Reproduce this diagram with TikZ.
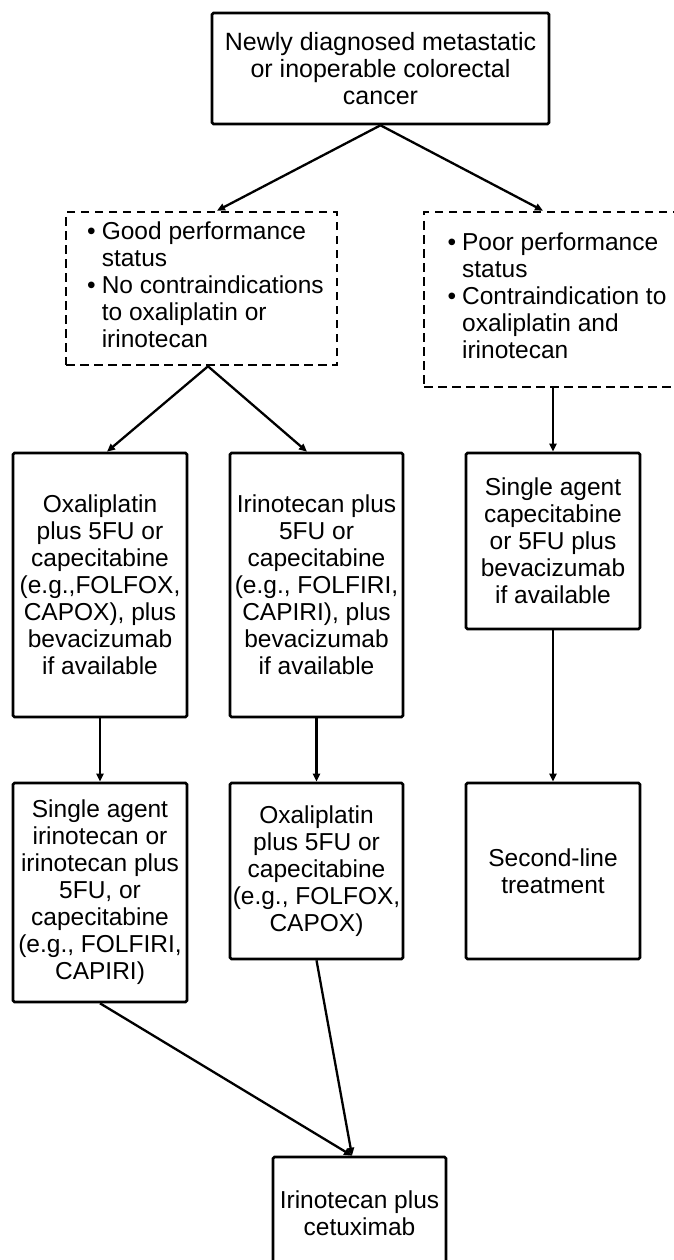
\documentclass[tikz,border=0pt]{standalone}
\usepackage{fontspec}
\setmainfont{Liberation Sans}
\usetikzlibrary{arrows.meta}
\begin{document}
\begin{tikzpicture}[x=1pt, y=-1pt,
  every node/.style={inner sep=0pt, font=\fontsize{24.5}{27}\selectfont, align=center},
  box/.style={draw, line width=2.6pt, rounded corners=1.5pt, minimum width=#1},
  box/.default=174pt,
  dbox/.style={draw, line width=2.6pt, dash pattern=on 8.5pt off 5.5pt},
  link/.style={line width=2.3pt, -{Triangle[length=8pt,width=7pt]}}]
\useasboundingbox (0,0) rectangle (673,1260);
\node[box=337pt, minimum height=111pt, font=\fontsize{25}{27}\selectfont] (T) at (380.5,68.5)
  {Newly diagnosed metastatic\\or inoperable colorectal\\cancer};
\node[dbox, minimum width=271pt, minimum height=153pt] (L) at (201.5,288.5)
  {\hspace*{8pt}\begin{tabular}{@{}l@{\hspace{6pt}}l@{}}
   • & Good performance\\ & status\\ • & No contraindications\\ & to oxaliplatin or\\ & irinotecan
   \end{tabular}};
\node[dbox, minimum width=258pt, minimum height=175pt] (R) at (553,299.5)
  {\hspace*{8pt}\begin{tabular}{@{}l@{\hspace{6pt}}l@{}}
   • & Poor performance\\ & status\\ • & Contraindication to\\ & oxaliplatin and\\ & irinotecan
   \end{tabular}};
\node[box, minimum height=264pt] (A) at (100,585)
  {Oxaliplatin\\plus 5FU or\\capecitabine\\(e.g.,FOLFOX,\\CAPOX), plus\\bevacizumab\\if available};
\node[box=173pt, minimum height=264pt] (B) at (316.5,585)
  {Irinotecan plus\\5FU or\\capecitabine\\(e.g., FOLFIRI,\\CAPIRI), plus\\bevacizumab\\if available};
\node[box, minimum height=176pt] (C) at (553,541)
  {Single agent\\capecitabine\\or 5FU plus\\bevacizumab\\if available};
\node[box, minimum height=219pt] (D) at (100,892.5)
  {Single agent\\irinotecan or\\irinotecan plus\\5FU, or\\capecitabine\\(e.g., FOLFIRI,\\CAPIRI)};
\node[box=173pt, minimum height=176pt] (E) at (316.5,871)
  {Oxaliplatin\\plus 5FU or\\capecitabine\\(e.g., FOLFOX,\\CAPOX)};
\node[box, minimum height=176pt] (F) at (553,871)
  {Second-line\\treatment};
\node[box=173pt, minimum height=112pt] (G) at (359.5,1213)
  {Irinotecan plus\\cetuximab};
\draw[link] (T.south) -- ([xshift=15.5pt]L.north);
\draw[link] (T.south) -- ([xshift=-10pt]R.north);
\draw[link] ([xshift=6.5pt]L.south) -- ([xshift=7pt]A.north);
\draw[link] ([xshift=6.5pt]L.south) -- ([xshift=-9.5pt]B.north);
\draw[link] (R.south) -- (C.north);
\draw[link] (A) -- (D);
\draw[link] (B) -- (E);
\draw[link] (C) -- (F);
\draw[link] (D.south) -- ([xshift=-7.5pt]G.north);
\draw[link] (E.south) -- ([xshift=-7.5pt]G.north);
\end{tikzpicture}
\end{document}
